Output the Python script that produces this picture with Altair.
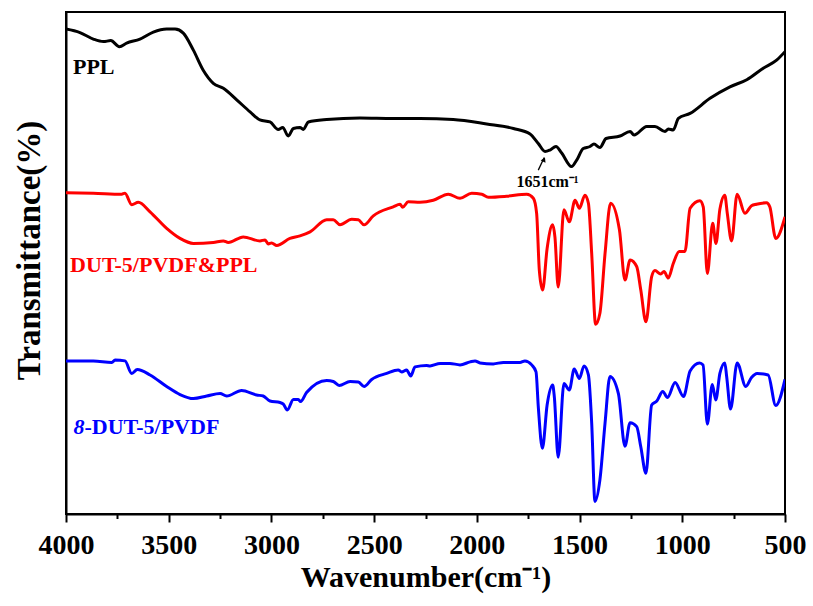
import altair as alt
import pandas as pd

# ---- data (wavenumber in cm-1, transmittance in arbitrary offset %) ----
ppl_wn = [4000, 3932, 3867, 3818, 3782, 3740, 3705, 3640, 3575, 3510, 3469, 3429, 3380, 3332, 3283, 3234,
          3169, 3104, 3056, 3007, 2967, 2945, 2918, 2893, 2861, 2845, 2820, 2731, 2569, 2407, 2277, 2115,
          1952, 1822, 1741, 1701, 1668, 1644, 1615, 1587, 1539, 1514, 1482, 1449, 1430, 1401, 1371, 1303,
          1254, 1235, 1173, 1133, 1084, 1068, 1044, 1019, 962, 865, 768, 686, 606, 541, 500]
ppl_t = [96.6, 95.9, 94.6, 94.1, 94.3, 93.1, 93.8, 94.6, 96.0, 96.6, 96.6, 95.8, 92.4, 88.4, 85.8, 84.8,
         82.5, 80.1, 78.5, 78.1, 76.6, 77.0, 75.3, 76.8, 77.0, 76.6, 78.1, 78.6, 78.9, 78.8, 78.8, 78.6,
         77.7, 76.8, 75.7, 73.8, 72.2, 72.5, 73.2, 71.9, 69.2, 70.5, 72.8, 73.2, 73.7, 73.0, 74.8, 75.3,
         76.2, 75.5, 77.2, 77.2, 76.2, 76.7, 76.5, 78.8, 79.8, 82.8, 85.1, 86.5, 88.8, 90.4, 92.1]

mix_wn = [4000, 3867, 3729, 3713, 3680, 3648, 3591, 3510, 3445, 3380, 3283, 3234, 3210, 3137, 3056, 3031,
          3015, 2999, 2974, 2910, 2861, 2812, 2731, 2699, 2666, 2609, 2577, 2549, 2504, 2407, 2374, 2361,
          2334, 2277, 2212, 2139, 2082, 2025, 1976, 1944, 1855, 1757, 1725, 1709, 1696, 1680, 1658, 1631,
          1620, 1604, 1576, 1550, 1522, 1501, 1474, 1457, 1441, 1422, 1401, 1376, 1349, 1306, 1279, 1254,
          1222, 1202, 1177, 1149, 1133, 1105, 1089, 1068, 1044, 1015, 987, 962, 914, 898, 878, 852,
          836, 817, 793, 781, 760, 733, 695, 663, 639, 590, 574, 545, 500]
mix_t = [64.0, 63.9, 63.7, 63.9, 61.6, 62.1, 60.2, 56.9, 54.9, 53.9, 54.1, 54.4, 54.1, 55.2, 54.4, 54.6,
         53.8, 54.0, 53.5, 54.9, 55.4, 56.2, 58.6, 58.6, 57.6, 58.7, 58.6, 57.6, 59.4, 61.2, 61.7, 61.1,
         62.2, 62.1, 62.5, 63.7, 62.9, 63.9, 63.7, 63.1, 63.3, 63.7, 62.9, 59.9, 48.6, 44.6, 52.9, 57.6,
         55.2, 45.2, 60.6, 58.2, 62.5, 60.9, 63.5, 61.9, 51.9, 37.8, 40.0, 51.9, 61.9, 56.6, 46.6, 50.6,
         49.3, 44.6, 38.3, 47.3, 48.5, 47.8, 48.3, 47.0, 49.9, 52.3, 52.3, 60.9, 62.4, 61.2, 47.9, 57.9,
         53.9, 60.7, 63.5, 59.9, 54.4, 63.7, 59.9, 61.4, 61.7, 62.0, 61.2, 54.9, 59.2]

dut_wn = [4000, 3867, 3777, 3761, 3713, 3680, 3653, 3591, 3510, 3445, 3380, 3315, 3250, 3218, 3145, 3072,
          3040, 3007, 2958, 2942, 2923, 2893, 2869, 2858, 2829, 2731, 2699, 2670, 2617, 2577, 2549, 2512,
          2439, 2383, 2366, 2342, 2322, 2301, 2245, 2228, 2179, 2131, 2082, 2033, 2009, 1985, 1920, 1871,
          1790, 1766, 1733, 1712, 1701, 1681, 1658, 1631, 1623, 1604, 1576, 1550, 1526, 1501, 1478, 1457,
          1441, 1425, 1401, 1376, 1352, 1311, 1279, 1254, 1222, 1202, 1177, 1149, 1124, 1095, 1072, 1035,
          994, 962, 916, 899, 878, 854, 837, 817, 793, 784, 765, 733, 691, 663, 636, 582, 545, 500]
dut_t = [30.5, 30.5, 30.2, 30.7, 30.5, 28.0, 28.8, 27.7, 25.4, 23.8, 23.0, 23.5, 24.0, 23.5, 24.6, 23.7,
         23.5, 22.5, 22.2, 21.9, 20.7, 22.8, 22.8, 22.4, 24.2, 26.6, 26.4, 25.6, 26.4, 26.3, 25.4, 26.8,
         28.0, 28.7, 28.3, 28.7, 27.5, 29.3, 29.6, 29.5, 30.0, 30.0, 29.7, 30.3, 30.5, 30.1, 29.9, 30.2,
         30.2, 30.5, 29.7, 28.3, 21.4, 13.1, 21.7, 25.7, 23.4, 11.3, 26.0, 24.7, 28.9, 27.0, 29.5, 27.7,
         18.1, 2.5, 6.8, 18.1, 27.4, 24.0, 13.5, 18.2, 17.4, 13.4, 8.1, 21.7, 22.5, 24.4, 23.2, 26.2,
         23.4, 28.5, 30.1, 29.7, 17.9, 25.8, 22.7, 28.0, 30.1, 27.4, 20.9, 30.1, 25.4, 27.2, 28.0, 27.7, 21.6, 26.8]

series_names = ["PPL", "DUT-5/PVDF&PPL", "8-DUT-5/PVDF"]
series_colors = ["#000000", "#FF0000", "#0000FF"]

x_ticks = list(range(4000, 499, -250))

FONT = "Liberation Serif"

df = pd.concat([
    pd.DataFrame({"wn": ppl_wn, "t": ppl_t, "s": series_names[0]}),
    pd.DataFrame({"wn": mix_wn, "t": mix_t, "s": series_names[1]}),
    pd.DataFrame({"wn": dut_wn, "t": dut_t, "s": series_names[2]}),
])

xscale = alt.Scale(domain=[4000, 500], nice=False, zero=False)
yscale = alt.Scale(domain=[0, 100], nice=False, zero=False)

x_axis = alt.Axis(
    values=x_ticks,
    labelExpr="datum.value % 500 === 0 ? datum.label : ''",
    format="d",
    tickSize={"condition": {"test": "datum.value % 500 !== 0", "value": 4.5}, "value": 8},
    tickWidth=2, tickColor="black", domainColor="black", domainWidth=2,
    labelFont=FONT, labelFontSize=28, labelFontWeight="bold", labelColor="black",
    labelPadding=9, labelFlush=False, labelOverlap=False,
    title="Wavenumber(cm⁻¹)", titleFont=FONT, titleFontSize=30, titleFontWeight="bold",
    titleColor="black", titleBaseline="alphabetic", titleY=72, grid=False,
)
y_axis = alt.Axis(
    labels=False, ticks=False, grid=False, domainColor="black", domainWidth=2,
    title="Transmittance(%)", titleFont=FONT, titleFontSize=33, titleFontWeight="bold",
    titleColor="black", titleAngle=-90, titleBaseline="middle", titleAlign="center",
    titleX=-37, titleY=238,
)

lines = alt.Chart(df).mark_line(strokeWidth=3, interpolate="monotone", clip=True).encode(
    x=alt.X("wn:Q", scale=xscale, axis=x_axis),
    y=alt.Y("t:Q", scale=yscale, axis=y_axis),
    color=alt.Color("s:N", scale=alt.Scale(domain=series_names, range=series_colors), legend=None),
    detail="s:N",
)

# series labels
lab_df = pd.DataFrame({
    "wn": [3966, 3980, 3910],
    "t": [89.0, 49.7, 17.3],
    "txt": ["PPL", "DUT-5/PVDF&PPL", "-DUT-5/PVDF"],
    "s": series_names,
})
labels = alt.Chart(lab_df).mark_text(
    font=FONT, fontSize=22, fontWeight="bold", align="left", baseline="middle"
).encode(
    x=alt.X("wn:Q", scale=xscale), y=alt.Y("t:Q", scale=yscale), text="txt:N",
    color=alt.Color("s:N", scale=alt.Scale(domain=series_names, range=series_colors), legend=None),
)
eight_df = pd.DataFrame({"wn": [3964], "t": [17.3], "txt": ["8"]})
eight = alt.Chart(eight_df).mark_text(
    font=FONT, fontSize=22, fontWeight="bold", fontStyle="italic", align="left",
    baseline="middle", color="#0000FF"
).encode(x=alt.X("wn:Q", scale=xscale), y=alt.Y("t:Q", scale=yscale), text="txt:N")

# 1651 annotation
ann_df = pd.DataFrame({"wn": [1656], "t": [66.2], "txt": ["1651cm⁻¹"]})
ann = alt.Chart(ann_df).mark_text(
    font=FONT, fontSize=16, fontWeight="bold", align="center", baseline="middle", color="black"
).encode(x=alt.X("wn:Q", scale=xscale), y=alt.Y("t:Q", scale=yscale), text="txt:N")

arrow_df = pd.DataFrame({"wn": [1701], "t": [68.5], "wn2": [1672], "t2": [71.0]})
arrow_line = alt.Chart(arrow_df).mark_rule(color="black", strokeWidth=1.3).encode(
    x=alt.X("wn:Q", scale=xscale), y=alt.Y("t:Q", scale=yscale), x2="wn2:Q", y2="t2:Q"
)
head_df = pd.DataFrame({"wn": [1673], "t": [70.6]})
arrow_head = alt.Chart(head_df).mark_point(
    shape="triangle-up", filled=True, color="black", size=28, angle=24, opacity=1
).encode(x=alt.X("wn:Q", scale=xscale), y=alt.Y("t:Q", scale=yscale))

chart = alt.layer(lines, labels, eight, ann, arrow_line, arrow_head).properties(
    width=719, height=502,
    autosize=alt.AutoSizeParams(type="none"),
    padding={"left": 66, "top": 12, "right": 28, "bottom": 92},
    background="white",
).configure_view(stroke="black", strokeWidth=2)

chart.save("out.html", embed_options={"renderer": "svg", "actions": False})
